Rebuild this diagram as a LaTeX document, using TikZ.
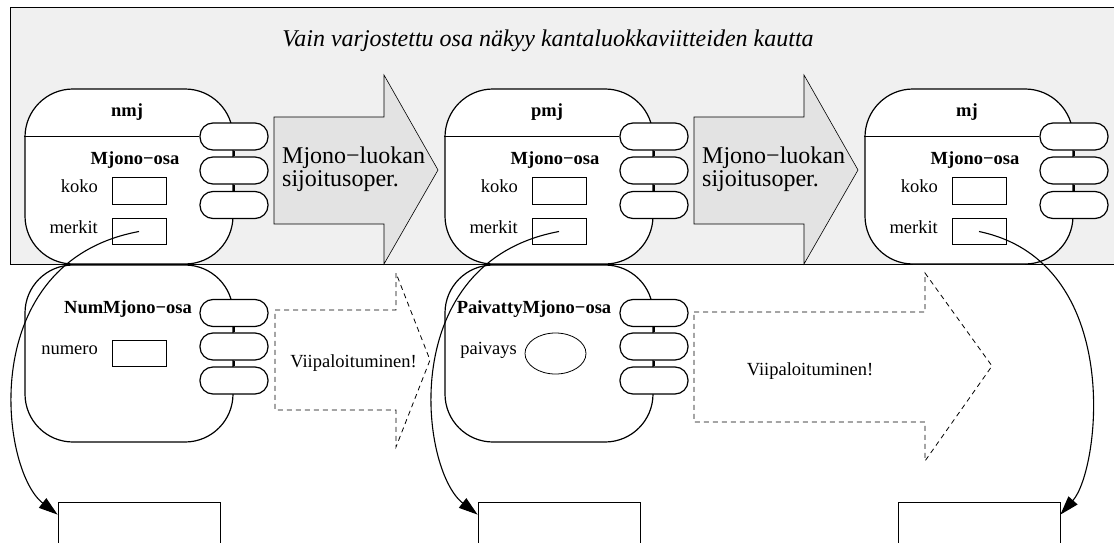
\documentclass[tikz,border=0pt]{standalone}
\usepackage{fontspec}
\setmainfont{Liberation Serif}
\usetikzlibrary{arrows.meta,shapes.geometric}
\definecolor{panelgray}{HTML}{F0F0F0}
\definecolor{arrowgray}{HTML}{E3E3E3}
\begin{document}
\begin{tikzpicture}[x=1pt,y=-1pt,
  lbl/.style={font=\fontsize{18.5}{22}\selectfont, inner sep=0pt},
  bold/.style={font=\fontsize{18.5}{22}\selectfont\bfseries, inner sep=0pt},
  objbox/.style={draw, fill=white, rounded corners=48pt, minimum width=208pt, line width=1.2pt, inner sep=0pt},
  pill/.style={draw, fill=white, rounded corners=13pt, minimum width=68pt, minimum height=27pt, inner sep=0pt, line width=1.2pt},
  field/.style={draw, fill=white, minimum width=54pt, minimum height=26.5pt, inner sep=0pt, line width=0.8pt},
  target/.style={draw, fill=white, minimum width=162pt, minimum height=42pt, inner sep=0pt, line width=0.8pt},
  bigarrow/.style={draw, fill=arrowgray, line width=0.6pt},
  slicearrow/.style={draw, dash pattern=on 5pt off 4pt, line width=0.8pt},
  link/.style={line width=1.1pt, -{Triangle[length=19pt,width=12pt]}},
  joint/.style={line width=1.1pt}]
\useasboundingbox (0,0) rectangle (1114,543);
% shaded panel
\path[fill=panelgray, draw=black, line width=0.9pt] (10,7) rectangle (1130,264);
\node[font=\fontsize{24}{28}\selectfont\itshape, inner sep=0pt, anchor=base] (title) at (548,47) {Vain varjostettu osa näkyy kantaluokkaviitteiden kautta};

% upper objects
\foreach \c/\nm/\off in {a/nmj/0, b/pmj/420, c/mj/840}{
  \node[objbox, minimum height=175pt] (obj\c) at (129+\off,176.5) {};
  \node[pill] (p\c1) at (234+\off,136.5) {};
  \node[pill] (p\c2) at (234+\off,170.5) {};
  \node[pill] (p\c3) at (234+\off,205) {};
  \draw[joint] (p\c1.south) -- (p\c2.north);
  \draw[joint] (p\c2.south) -- (p\c3.north);
  \draw[joint] (obj\c.west |- p\c1.west) -- (p\c1.west);
  \node[bold, anchor=base] (name\c) at (127+\off,117) {\nm};
  \node[bold, anchor=base] (part\c) at (135+\off,164) {Mjono−osa};
  \node[lbl, anchor=base east] (kl\c) at (98+\off,192) {koko};
  \node[field] (k\c) at (139+\off,191) {};
  \node[lbl, anchor=base east] (ml\c) at (98+\off,233) {merkit};
  \node[field] (m\c) at (139+\off,231.5) {};
}

% lower objects
\node[objbox, minimum height=177pt] (lowa) at (129,353.5) {};
\node[pill] (qa1) at (234,313) {};
\node[pill] (qa2) at (234,346.5) {};
\node[pill] (qa3) at (234,380.5) {};
\draw[joint] (qa1.south) -- (qa2.north);
\draw[joint] (qa2.south) -- (qa3.north);
\node[bold, anchor=base] (numpart) at (128,313) {NumMjono−osa};
\node[lbl, anchor=base east] (numlbl) at (98,354) {numero};
\node[field] (numfield) at (139,353.5) {};

\node[objbox, minimum height=177pt] (lowb) at (549,353.5) {};
\node[pill] (qb1) at (654,313) {};
\node[pill] (qb2) at (654,346.5) {};
\node[pill] (qb3) at (654,380.5) {};
\draw[joint] (qb1.south) -- (qb2.north);
\draw[joint] (qb2.south) -- (qb3.north);
\node[bold, anchor=base] (paipart) at (534,313) {PaivattyMjono−osa};
\node[lbl, anchor=base east] (pailbl) at (517,354) {paivays};
\node[draw, ellipse, fill=white, minimum width=61pt, minimum height=41pt, inner sep=0pt, line width=0.8pt] (paifield) at (555.5,353.5) {};

% assignment arrows
\draw[bigarrow] (274,117) -- (384,117) -- (384,75) -- (438,170) -- (384,264) -- (384,224) -- (274,224) -- cycle;
\node[font=\fontsize{24}{23}\selectfont, align=left, inner sep=0pt, anchor=west] (assign1) at (282,169) {Mjono−luokan\\sijoitusoper.};
\draw[bigarrow] (694,117) -- (804,117) -- (804,75) -- (858,170) -- (804,264) -- (804,224) -- (694,224) -- cycle;
\node[font=\fontsize{24}{23}\selectfont, align=left, inner sep=0pt, anchor=west] (assign2) at (702,169) {Mjono−luokan\\sijoitusoper.};

% slicing arrows
\draw[slicearrow] (275,310) -- (396,310) -- (396,273) -- (430,360) -- (396,447) -- (396,410) -- (275,410) -- cycle;
\node[lbl, anchor=base] (slice1) at (353.5,367) {Viipaloituminen!};
\draw[slicearrow] (694,312) -- (925,312) -- (925,273) -- (992,366) -- (925,461) -- (925,422) -- (694,422) -- cycle;
\node[lbl, anchor=base] (slice2) at (810,375) {Viipaloituminen!};

% character arrays
\node[target] (b1) at (139,523) {};
\node[target] (b2) at (559,523) {};
\node[target] (b3) at (979,523) {};

% pointers
\draw[link] (ma.center) .. controls (-25,262) and (0,470) .. ([yshift=-13pt]b1.north west);
\draw[link] (mb.center) .. controls (395,262) and (420,470) .. ([yshift=-13pt]b2.north west);
\draw[link] (mc.center) .. controls (1125,262) and (1100,470) .. ([yshift=-13pt]b3.north east);
\end{tikzpicture}
\end{document}
